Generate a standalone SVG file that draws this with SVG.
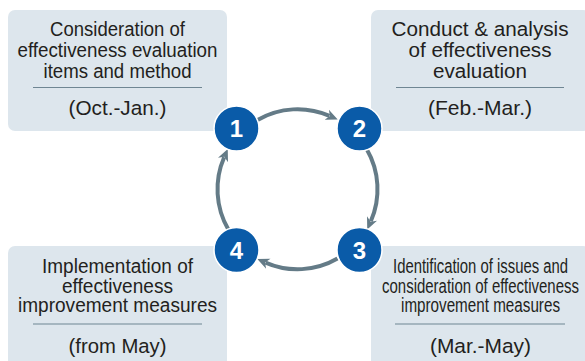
<svg xmlns="http://www.w3.org/2000/svg" width="585" height="361" viewBox="0 0 585 361">
<style>
.box{fill:#dde6ed}
.t{font-family:"Liberation Sans",Arial,sans-serif;font-size:19.5px;fill:#231f20;text-anchor:middle}
.d{font-size:20.5px}
.div{stroke:#6f8693;stroke-width:1.2}
.num{font-family:"Liberation Sans",Arial,sans-serif;font-size:24px;font-weight:bold;fill:#fff;text-anchor:middle}
.c{fill:#0a5ba8;stroke:#fff;stroke-width:1.5}
.arc{fill:none;stroke:#647b87;stroke-width:4;marker-end:url(#ah)}
</style>
<defs>
<marker id="ah" markerUnits="userSpaceOnUse" markerWidth="12" markerHeight="12" viewBox="0 0 12 12" refX="3" refY="6" orient="auto">
<path d="M0,0.5 L12,6 L0,11.5 L3.5,6 z" fill="#647b87"/>
</marker>
</defs>
<g id="box1">
<rect class="box" x="8" y="10" width="219" height="121" rx="7"/>
<text class="t" x="117.5" y="36" textLength="135" lengthAdjust="spacingAndGlyphs">Consideration of</text>
<text class="t" x="117.5" y="57" textLength="200" lengthAdjust="spacingAndGlyphs">effectiveness evaluation</text>
<text class="t" x="117.5" y="78" textLength="148" lengthAdjust="spacingAndGlyphs">items and method</text>
<line class="div" x1="33" y1="87.5" x2="202" y2="87.5"/>
<text class="t d" x="117.5" y="115" textLength="98" lengthAdjust="spacingAndGlyphs">(Oct.-Jan.)</text>
</g>
<g id="box2">
<rect class="box" x="371" y="10" width="219" height="121" rx="7"/>
<text class="t" x="480" y="35.5" textLength="177" lengthAdjust="spacingAndGlyphs">Conduct &amp; analysis</text>
<text class="t" x="480" y="56.5" textLength="143" lengthAdjust="spacingAndGlyphs">of effectiveness</text>
<text class="t" x="480" y="77.5" textLength="94" lengthAdjust="spacingAndGlyphs">evaluation</text>
<line class="div" x1="396" y1="87.5" x2="564" y2="87.5"/>
<text class="t d" x="480" y="115" textLength="104" lengthAdjust="spacingAndGlyphs">(Feb.-Mar.)</text>
</g>
<g id="box3">
<rect class="box" x="371" y="246" width="219" height="125" rx="7"/>
<text class="t" x="480.5" y="273" textLength="175" lengthAdjust="spacingAndGlyphs">Identification of issues and</text>
<text class="t" x="480.5" y="293" textLength="197" lengthAdjust="spacingAndGlyphs">consideration of effectiveness</text>
<text class="t" x="480.5" y="312" textLength="159" lengthAdjust="spacingAndGlyphs">improvement measures</text>
<line class="div" x1="395" y1="324" x2="565" y2="324"/>
<text class="t d" x="480.5" y="352.5" textLength="101" lengthAdjust="spacingAndGlyphs">(Mar.-May)</text>
</g>
<g id="box4">
<rect class="box" x="8" y="246" width="219" height="125" rx="7"/>
<text class="t" x="117.5" y="272.5" textLength="151" lengthAdjust="spacingAndGlyphs">Implementation of</text>
<text class="t" x="117.5" y="292.5" textLength="111" lengthAdjust="spacingAndGlyphs">effectiveness</text>
<text class="t" x="117.5" y="312" textLength="199" lengthAdjust="spacingAndGlyphs">improvement measures</text>
<line class="div" x1="33" y1="324" x2="202" y2="324"/>
<text class="t d" x="117.5" y="352.5" textLength="98" lengthAdjust="spacingAndGlyphs">(from May)</text>
</g>
<g id="connectors">
<path class="arc" d="M257.5,119.97 A80,80 0 0 1 329.46,115.91"/>
<path class="arc" d="M366.78,149.25 A80,80 0 0 1 370.84,221.21"/>
<path class="arc" d="M337.5,258.53 A80,80 0 0 1 265.54,262.59"/>
<path class="arc" d="M228.22,229.25 A80,80 0 0 1 224.16,157.29"/>
</g>
<g id="step1"><circle class="c" cx="236.5" cy="128.5" r="22.5"/><text class="num" x="236.5" y="137">1</text></g>
<g id="step2"><circle class="c" cx="359.5" cy="128.5" r="22.5"/><text class="num" x="359.5" y="137">2</text></g>
<g id="step3"><circle class="c" cx="359.5" cy="250" r="22.5"/><text class="num" x="359.5" y="258.5">3</text></g>
<g id="step4"><circle class="c" cx="236.5" cy="250" r="22.5"/><text class="num" x="236.5" y="258.5">4</text></g>
</svg>
